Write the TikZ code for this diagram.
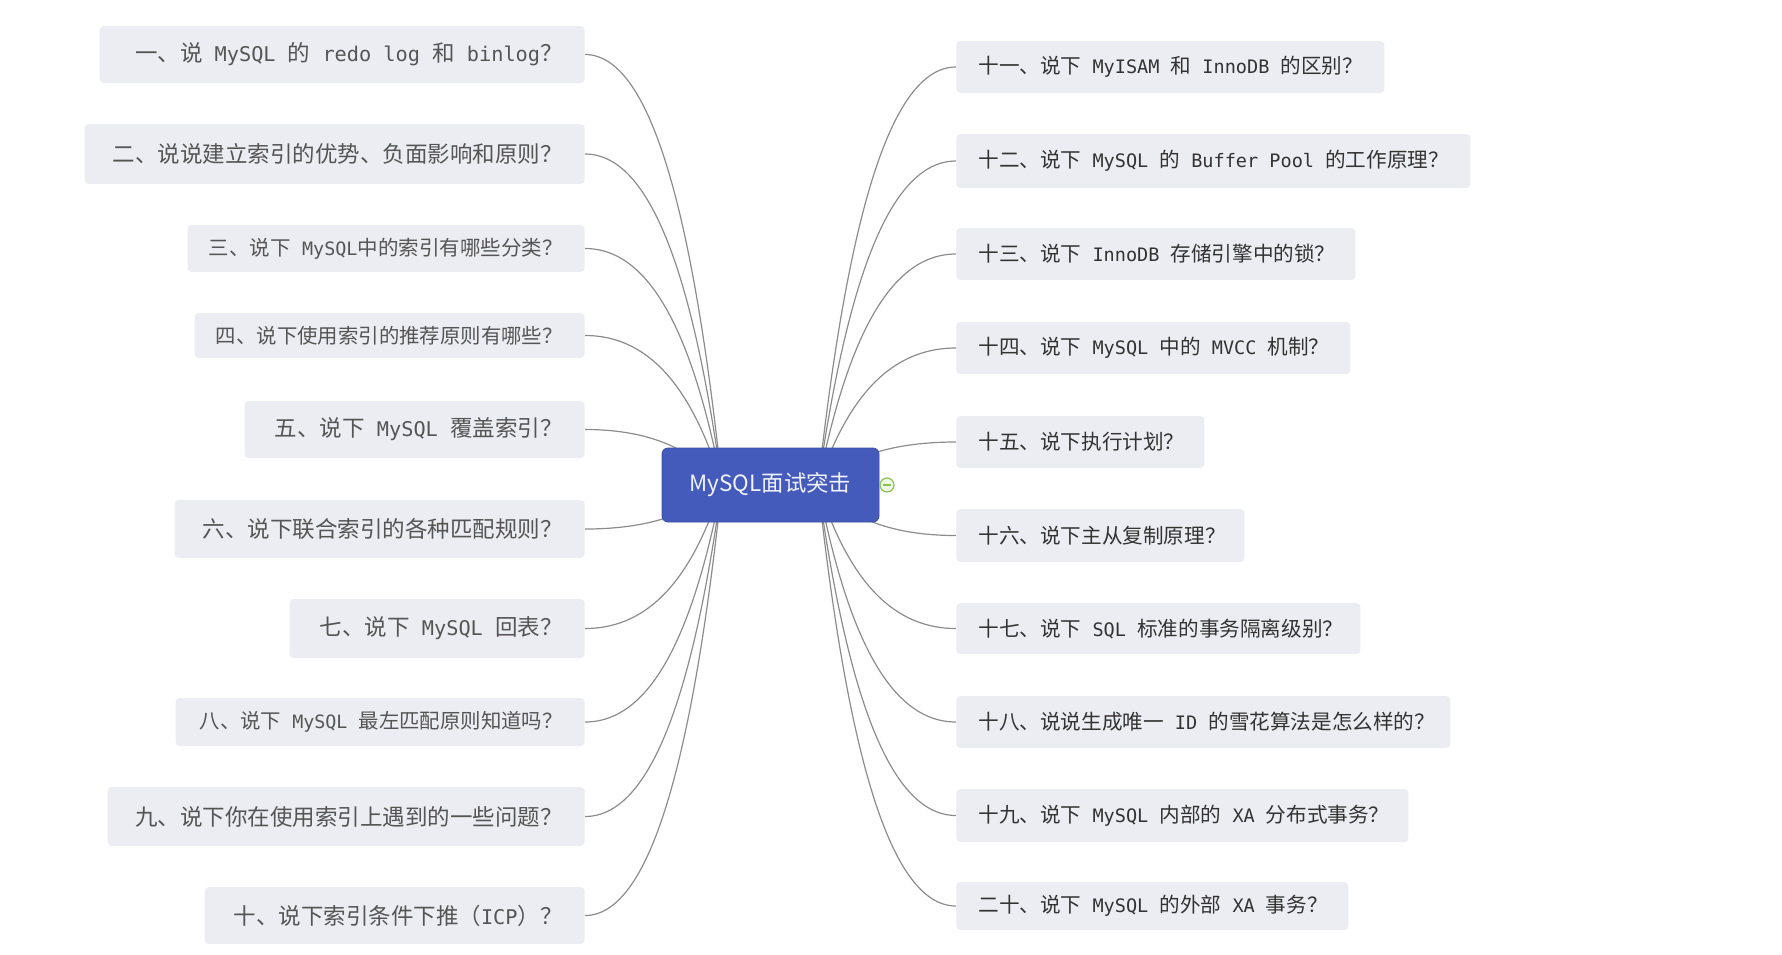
\documentclass[tikz,border=0pt]{standalone}
\usepackage{fontspec}
\setmainfont{Noto Sans CJK SC}
\setmonofont[Scale=0.9]{DejaVu Sans Mono}
\usetikzlibrary{calc,backgrounds}
\definecolor{topicblue}{HTML}{455BBC}
\definecolor{leafbg}{HTML}{ECEDF2}
\definecolor{linegray}{HTML}{8C8C8C}
\definecolor{foldgreen}{HTML}{8CC152}
\definecolor{leftgray}{HTML}{555555}
\definecolor{rightgray}{HTML}{333333}
\tikzset{
  topic/.style={rounded corners=3pt, fill=topicblue, draw=topicblue!85!black, line width=0.4pt,
    text=white!92!topicblue, minimum width=108.5pt, minimum height=37pt, font=\fontsize{11.2pt}{13pt}\selectfont},
  leaf/.style={rounded corners=2pt, fill=leafbg, inner xsep=11pt, inner ysep=0pt},
  branch/.style={draw=linegray, line width=0.6pt},
}
\begin{document}
\begin{tikzpicture}[x=0.5pt, y=-0.5pt]
  \useasboundingbox (0,0) rectangle (1782,954);
  % central topic
  \node[topic] (root) at (770.5,485) {MySQL面试突击};
  \coordinate (rootL) at (722,485);
  \coordinate (rootR) at (818,485);
  \node[circle, draw=foldgreen, fill=foldgreen!15, line width=0.6pt, minimum size=7pt, inner sep=0pt] (fold) at (887,485) {};
  \draw[foldgreen, line width=0.6pt] ([xshift=-2.1pt]fold.center) -- ([xshift=2.1pt]fold.center);
  % left questions
  \foreach \y/\w/\h/\f/\t [count=\i] in {
      54.5/485/57/11.25/{一、说\texttt{ MySQL }的\texttt{ redo log }和\texttt{ binlog}？},
      154/500/60/11.25/{二、说说建立索引的优势、负面影响和原则？},
      248.5/397/47/10.25/{三、说下\texttt{ MySQL}中的索引有哪些分类？},
      335.5/390/45/10.2/{四、说下使用索引的推荐原则有哪些？},
      429.5/340/57/11.25/{五、说下\texttt{ MySQL }覆盖索引？},
      529/410/58/11.25/{六、说下联合索引的各种匹配规则？},
      628.5/295/59/11.25/{七、说下\texttt{ MySQL }回表？},
      722/409/48/10.2/{八、说下\texttt{ MySQL }最左匹配原则知道吗？},
      816.5/477/59/11.25/{九、说下你在使用索引上遇到的一些问题？},
      915.5/380/57/11.25/{十、说下索引条件下推（\texttt{ICP}）？}} {
    \pgfmathsetmacro\tw{(\w-44)/2}
    \pgfmathsetmacro\hh{\h/2}
    \node[leaf, anchor=east, minimum height=\hh pt, text=leftgray,
      font=\fontsize{\f pt}{14pt}\selectfont] (q\i) at (585,\y) {\makebox[\tw pt][r]{\t}};
  }
  % right questions
  \foreach \y/\w/\h/\t [count=\i from 11] in {
      67/428/52/{十一、说下\texttt{ MyISAM }和\texttt{ InnoDB }的区别？},
      161/514/54/{十二、说下\texttt{ MySQL }的\texttt{ Buffer Pool }的工作原理？},
      254/399/52/{十三、说下\texttt{ InnoDB }存储引擎中的锁？},
      348/394/52/{十四、说下\texttt{ MySQL }中的\texttt{ MVCC }机制？},
      442/248/52/{十五、说下执行计划？},
      535.5/288/53/{十六、说下主从复制原理？},
      628.5/404/51/{十七、说下\texttt{ SQL }标准的事务隔离级别？},
      722/494/52/{十八、说说生成唯一\texttt{ ID }的雪花算法是怎么样的？},
      815.5/452/53/{十九、说下\texttt{ MySQL }内部的\texttt{ XA }分布式事务？},
      906/392/48/{二十、说下\texttt{ MySQL }的外部\texttt{ XA }事务？}} {
    \pgfmathsetmacro\tw{(\w-44)/2}
    \pgfmathsetmacro\hh{\h/2}
    \node[leaf, anchor=west, minimum height=\hh pt, text=rightgray,
      font=\fontsize{10.3pt}{14pt}\selectfont] (q\i) at (956,\y) {\makebox[\tw pt][l]{\t}};
  }
  % branches
  \begin{scope}[on background layer]
    \foreach \i in {1,...,10}
      \draw[branch] let \p1=(rootL), \p2=(q\i.east) in
        (\p1) .. controls ({\x1+0.2*(\x2-\x1)},{\y1+0.6*(\y2-\y1)}) and ({\x1+0.5*(\x2-\x1)},\y2) .. (\p2);
    \foreach \i in {11,...,20}
      \draw[branch] let \p1=(rootR), \p2=(q\i.west) in
        (\p1) .. controls ({\x1+0.2*(\x2-\x1)},{\y1+0.6*(\y2-\y1)}) and ({\x1+0.5*(\x2-\x1)},\y2) .. (\p2);
  \end{scope}
\end{tikzpicture}
\end{document}
